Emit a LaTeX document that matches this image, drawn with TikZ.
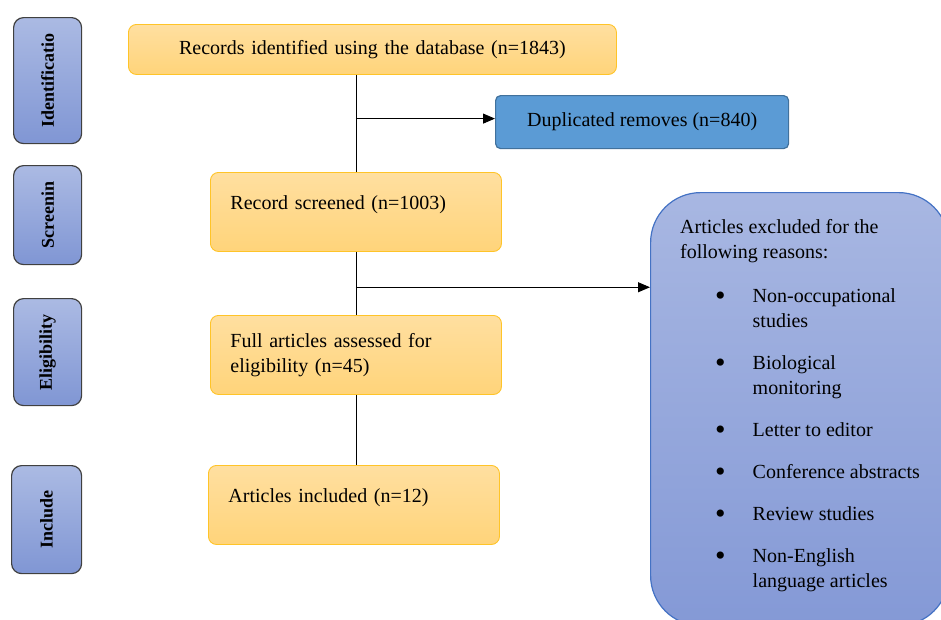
\documentclass[tikz,border=0pt]{standalone}
\usepackage{fontspec}
\setmainfont{Liberation Serif}
\usepackage{array}
\usetikzlibrary{arrows.meta}
\usetikzlibrary{calc}
\definecolor{phasetop}{RGB}{171,186,227}
\definecolor{phasebottom}{RGB}{128,150,212}
\definecolor{phaseline}{RGB}{64,64,64}
\definecolor{steptop}{RGB}{255,223,160}
\definecolor{stepbottom}{RGB}{255,212,122}
\definecolor{stepline}{RGB}{255,196,40}
\definecolor{dupfill}{RGB}{91,155,213}
\definecolor{dupline}{RGB}{65,113,156}
\definecolor{excltop}{RGB}{168,183,226}
\definecolor{exclbottom}{RGB}{132,153,214}
\definecolor{exclline}{RGB}{68,114,196}
\newcommand{\reasonbullet}{\raisebox{-3.5pt}{\scalebox{1.5}{\textbullet}}}

\begin{document}
\begin{tikzpicture}[x=1pt,y=-1pt,font=\fontsize{20}{25}\selectfont]
   \tikzset{PhaseStyle/.style={draw=phaseline, line width=1.2pt, rounded corners=10pt, top color=phasetop, bottom color=phasebottom, anchor=north west, inner sep=0pt, font=\fontsize{18}{22}\selectfont\bfseries}}
   \tikzset{StepStyle/.style={draw=stepline, line width=0.9pt, rounded corners=8pt, top color=steptop, bottom color=stepbottom, anchor=north west, inner xsep=20pt, inner ysep=0pt, align=left}}
   \tikzset{DupStyle/.style={draw=dupline, line width=1.2pt, rounded corners=5pt, fill=dupfill, anchor=north west, inner sep=0pt}}
   \tikzset{ExcludeStyle/.style={draw=exclline, line width=1.2pt, rounded corners=50pt, top color=excltop, bottom color=exclbottom, anchor=north west, inner sep=0pt}}
   \tikzset{LinkStyle/.style={line width=0.9pt}}
   \tikzset{ArrowStyle/.style={LinkStyle, -{Triangle[length=12pt,width=10pt]}}}
   \useasboundingbox (0,0) rectangle (941,619);
   \clip (0,0) rectangle (941,619);
   \node[PhaseStyle, minimum width=68pt, minimum height=126pt] (identification) at (13,17) {\rotatebox{90}{Identificatio}};
   \node[PhaseStyle, minimum width=68pt, minimum height=99pt] (screening) at (13,165) {\rotatebox{90}{Screenin}};
   \node[PhaseStyle, minimum width=68pt, minimum height=107pt] (eligibility) at (13,298) {\rotatebox{90}{Eligibility}};
   \node[PhaseStyle, minimum width=70pt, minimum height=108pt] (include) at (11,465) {\rotatebox{90}{Include}};
   \node[StepStyle, minimum width=488pt, minimum height=50pt, text width=448pt, align=center] (records) at (128,24) {Records identified using the database (n=1843)};
   \node[DupStyle, minimum width=293pt, minimum height=53pt] (duplicates) at (495,95) {Duplicated removes (n=840)};
   \node[StepStyle, minimum width=291pt, minimum height=79pt, text width=251pt, text depth=19pt] (screened) at (210,172) {Record screened (n=1003)};
   \node[StepStyle, minimum width=291pt, minimum height=79pt, text width=251pt] (fulltext) at (210,315) {Full articles assessed for\\eligibility (n=45)};
   \node[StepStyle, minimum width=291pt, minimum height=79pt, text width=251pt, text depth=18pt] (included) at (208,465) {Articles included (n=12)};
   \node[ExcludeStyle, minimum width=298pt, minimum height=433pt] (excluded) at (650,192) {};
   \node[anchor=north west, inner sep=0pt] (reasons) at (680,215.5) {%
      \begin{tabular}{@{\hspace{35pt}}c@{\hspace{27pt}}>{\raggedright\arraybackslash}p{172pt}@{}}
      \multicolumn{2}{@{}l@{}}{Articles excluded for the}\\
      \multicolumn{2}{@{}l@{}}{following reasons:}\\\noalign{\vspace{19pt}}
      \reasonbullet & Non-occupational studies\\\noalign{\vspace{17pt}}
      \reasonbullet & Biological monitoring\\\noalign{\vspace{17pt}}
      \reasonbullet & Letter to editor\\\noalign{\vspace{17pt}}
      \reasonbullet & Conference abstracts\\\noalign{\vspace{17pt}}
      \reasonbullet & Review studies\\\noalign{\vspace{17pt}}
      \reasonbullet & Non-English language articles\\
      \end{tabular}};
   \coordinate (dupsplit) at ($(records.south -| screened.north)!0.45!(screened.north)$);
   \draw[LinkStyle] (screened.north |- records.south) -- (screened.north);
   \draw[ArrowStyle] (dupsplit) -- (dupsplit -| duplicates.west);
   \draw[LinkStyle] (screened.south) -- (fulltext.north);
   \coordinate (split) at ($(screened.south)!0.56!(fulltext.north)$);
   \draw[ArrowStyle] (split) -- (split -| excluded.west);
   \draw[LinkStyle] (fulltext.south) -- (fulltext.south |- included.north);
\end{tikzpicture}
\end{document}
